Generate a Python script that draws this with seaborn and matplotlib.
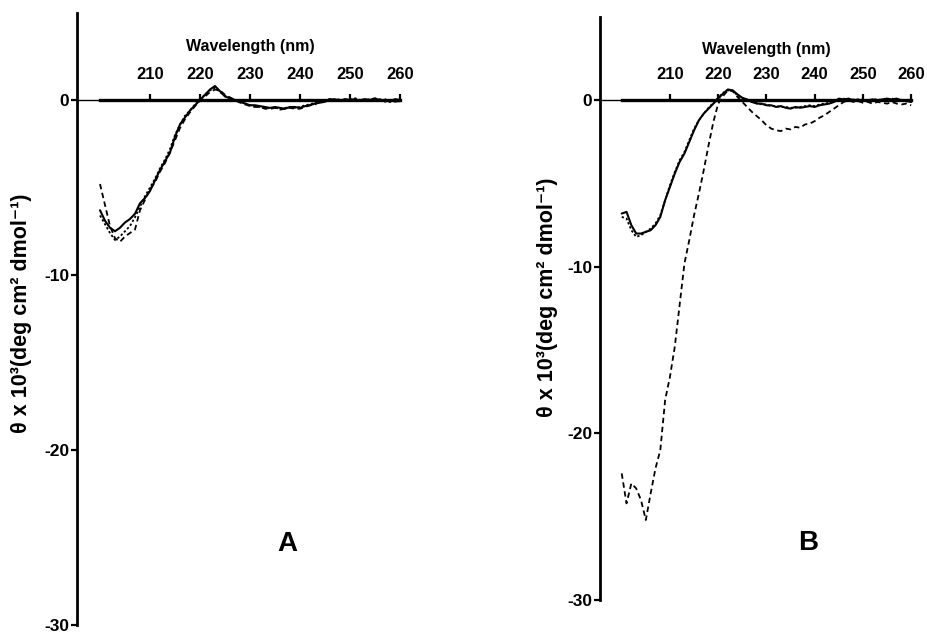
import matplotlib
matplotlib.use("Agg")
import matplotlib.pyplot as plt
import seaborn as sns

# CD spectra, wavelength in nm, theta x 10^3 (deg cm2 dmol-1)
wl = list(range(200, 261))

a_solid = [-6.3, -6.9, -7.3, -7.5, -7.3, -7.0, -6.8, -6.5, -5.9, -5.6,
           -5.2, -4.6, -4.0, -3.5, -3.0, -2.1, -1.4, -1.0, -0.6, -0.3,
           0.0, 0.3, 0.6, 0.8, 0.5, 0.2, 0.1, 0.0, -0.1, -0.2,
           -0.3, -0.3, -0.35, -0.4, -0.45, -0.4, -0.45, -0.5, -0.4, -0.4,
           -0.45, -0.35, -0.3, -0.2, -0.15, -0.1, 0.05, 0.0, -0.05, 0.05,
           0.0, 0.05, -0.05, 0.05, 0.0, 0.1, -0.05, 0.0, -0.1, 0.05,
           0.0]
a_dash = [-4.8, -6.0, -7.2, -7.9, -8.1, -7.8, -7.6, -7.4, -6.3, -5.7,
          -5.1, -4.7, -4.1, -3.6, -3.0, -2.3, -1.6, -1.1, -0.7, -0.35,
          -0.05, 0.2, 0.45, 0.6, 0.55, 0.3, 0.15, 0.0, -0.15, -0.25,
          -0.35, -0.4, -0.4, -0.5, -0.5, -0.45, -0.55, -0.5, -0.45, -0.5,
          -0.5, -0.4, -0.3, -0.25, -0.1, -0.05, 0.0, 0.05, -0.05, 0.0,
          0.05, -0.05, 0.0, 0.05, -0.05, 0.0, 0.05, -0.1, 0.0, -0.1,
          -0.05]
a_dot = [-6.6, -7.1, -7.6, -8.0, -7.8, -7.5, -7.2, -6.7, -6.1, -5.5,
         -5.0, -4.5, -3.9, -3.4, -2.8, -2.0, -1.4, -0.9, -0.6, -0.25,
         0.05, 0.3, 0.55, 0.7, 0.45, 0.25, 0.1, -0.05, -0.1, -0.2,
         -0.3, -0.35, -0.4, -0.4, -0.5, -0.45, -0.5, -0.45, -0.4, -0.45,
         -0.4, -0.3, -0.25, -0.15, -0.05, 0.0, 0.05, 0.0, 0.05, -0.05,
         0.0, 0.1, 0.0, -0.05, 0.05, 0.0, -0.05, 0.05, -0.1, 0.0,
         -0.1]

b_solid = [-6.8, -6.7, -7.5, -8.0, -8.0, -7.9, -7.8, -7.5, -7.0, -6.0,
           -5.2, -4.4, -3.7, -3.2, -2.5, -1.8, -1.2, -0.8, -0.5, -0.2,
           0.1, 0.4, 0.65, 0.6, 0.35, 0.15, 0.05, -0.1, -0.2, -0.2,
           -0.3, -0.3, -0.4, -0.35, -0.45, -0.5, -0.4, -0.45, -0.4, -0.35,
           -0.4, -0.3, -0.25, -0.2, -0.1, 0.1, 0.05, 0.1, 0.0, 0.05,
           -0.05, 0.0, 0.05, 0.0, 0.05, 0.1, 0.05, 0.1, 0.0, -0.05,
           -0.1]
b_dot = [-7.0, -7.1, -7.8, -8.2, -8.1, -7.9, -7.7, -7.4, -6.9, -6.0,
         -5.1, -4.3, -3.6, -3.1, -2.4, -1.7, -1.2, -0.8, -0.45, -0.15,
         0.15, 0.45, 0.6, 0.55, 0.3, 0.1, 0.0, -0.1, -0.15, -0.25,
         -0.25, -0.35, -0.35, -0.4, -0.4, -0.45, -0.45, -0.4, -0.35, -0.3,
         -0.35, -0.25, -0.2, -0.15, -0.05, 0.05, 0.1, 0.05, 0.05, 0.0,
         0.05, -0.05, 0.05, 0.05, 0.0, 0.05, 0.1, 0.05, 0.0, -0.05,
         -0.05]
b_dash = [-22.4, -24.2, -23.0, -23.3, -24.0, -25.2, -23.6, -22.1, -21.0, -18.0,
          -16.6, -14.8, -12.3, -9.8, -8.4, -6.9, -5.6, -4.2, -2.7, -1.3,
          -0.2, 0.25, 0.6, 0.55, 0.2, -0.1, -0.4, -0.7, -0.95, -1.2,
          -1.5, -1.7, -1.8, -1.85, -1.7, -1.75, -1.6, -1.65, -1.45, -1.4,
          -1.25, -1.05, -0.9, -0.7, -0.5, -0.3, -0.1, 0.0, -0.1, -0.05,
          -0.15, -0.1, -0.2, -0.1, -0.15, -0.2, -0.1, -0.2, -0.25, -0.2,
          -0.3]

xticks = [210, 220, 230, 240, 250, 260]
yticks = [0, -10, -20, -30]
ylab = "θ x 10³(deg cm² dmol⁻¹)"

sns.set_style("white")
plt.rcParams['font.family'] = ['Liberation Sans', 'DejaVu Sans']
plt.rcParams['font.weight'] = 'bold'
plt.rcParams['axes.unicode_minus'] = False
for k in ['text.color', 'axes.labelcolor', 'xtick.color', 'ytick.color']:
    plt.rcParams[k] = 'k'

W, H = 928, 633
fig = plt.figure(figsize=(W / 100, H / 100), dpi=100)


def add_ax(left, top, right, bottom):
    return fig.add_axes([left / W, 1 - bottom / H, (right - left) / W, (bottom - top) / H])


def style(ax, xmin, lab_x, lab_y):
    ax.set_xlim(xmin, 261)
    ax.set_ylim(-30, 5)
    for s in ['right', 'bottom']:
        ax.spines[s].set_visible(False)
    ax.spines['left'].set_linewidth(2)
    ax.spines['left'].set_color('k')
    ax.spines['top'].set_position(('data', 0))
    ax.spines['top'].set_bounds(200, 260)
    ax.spines['top'].set_linewidth(2.4)
    ax.spines['top'].set_color('k')
    ax.axhline(0, xmin=0, xmax=(200 - xmin) / (261 - xmin), color='k', lw=1)
    ax.xaxis.tick_top()
    ax.xaxis.set_label_position('top')
    ax.set_xticks(xticks)
    ax.set_yticks(yticks)
    ax.tick_params(axis='x', top=True, bottom=False, direction='out', length=4.5,
                   width=1.6, pad=8.5, labelsize=12, colors='k')
    ax.tick_params(axis='y', left=True, right=False, direction='out', length=4,
                   width=1.6, pad=1.5, labelsize=12.5, colors='k')
    for t in ax.get_xticklabels() + ax.get_yticklabels():
        t.set_fontweight('bold')
    ax.set_xlabel("Wavelength (nm)", fontsize=11.5, fontweight='bold')
    ax.xaxis.label.set_va('center')
    ax.xaxis.set_label_coords((230 - xmin) / (261 - xmin), 0.945)
    ax.set_ylabel(ylab, fontsize=15.5, fontweight='bold')
    ax.yaxis.label.set_va('center')
    ax.yaxis.set_label_coords(lab_x, lab_y)
    ax.grid(False)


axA = add_ax(77, 12.5, 405, 625)
sns.lineplot(x=wl, y=a_solid, ax=axA, color='k', lw=1.5)
sns.lineplot(x=wl, y=a_dash, ax=axA, color='k', lw=1.3, linestyle=(0, (3, 2)))
sns.lineplot(x=wl, y=a_dot, ax=axA, color='k', lw=1.3, linestyle=(0, (1.3, 1.2)))
style(axA, 195.4, -0.168, 0.509)

axB = add_ax(600, 17, 916, 600)
sns.lineplot(x=wl, y=b_solid, ax=axB, color='k', lw=1.5)
sns.lineplot(x=wl, y=b_dot, ax=axB, color='k', lw=1.3, linestyle=(0, (1.3, 1.2)))
sns.lineplot(x=wl, y=b_dash, ax=axB, color='k', lw=1.3, linestyle=(0, (3, 2)))
style(axB, 195.5, -0.165, 0.52)

fig.text(287 / W, 1 - 544 / H, "A", fontsize=20, fontweight='bold', ha='center', va='center')
fig.text(808 / W, 1 - 543 / H, "B", fontsize=20, fontweight='bold', ha='center', va='center')

fig.savefig("out.png", dpi=100)
